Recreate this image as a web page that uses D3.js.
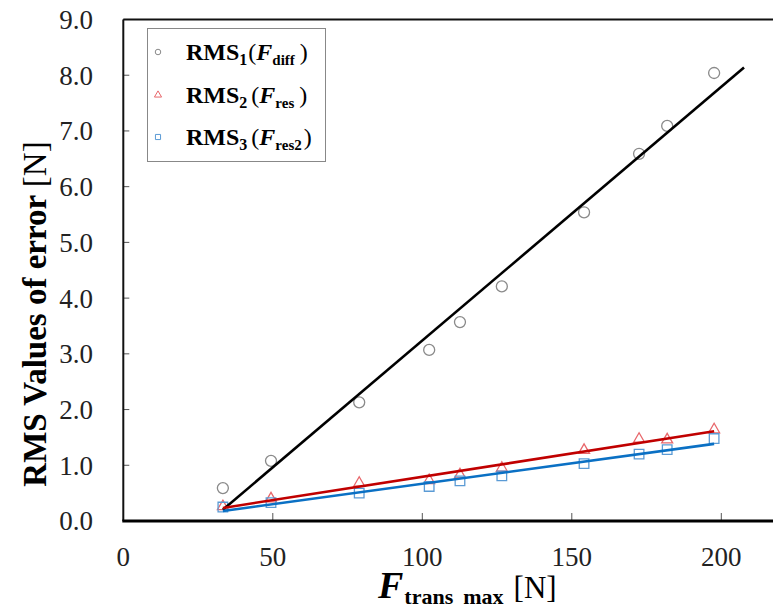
<!DOCTYPE html>
<html>
<head>
<meta charset="utf-8">
<script src="https://cdn.jsdelivr.net/npm/d3@7"></script>
<style>
  body { margin: 0; background: #fff; }
  svg { display: block; font-family: "Liberation Serif", "Times New Roman", serif; }
</style>
</head>
<body>
<script>
var fTrans = [33.3, 49.4, 78.9, 102.3, 112.6, 126.6, 154.1, 172.5, 181.9, 197.6];
var rms1 = [0.59, 1.08, 2.13, 3.07, 3.57, 4.21, 5.54, 6.59, 7.09, 8.04];
var rms2 = [0.26, 0.40, 0.68, 0.73, 0.83, 0.95, 1.27, 1.47, 1.46, 1.64];
var rms3 = [0.25, 0.33, 0.50, 0.62, 0.72, 0.81, 1.03, 1.20, 1.28, 1.48];
var seriesNames = ["RMS1", "RMS2", "RMS3"];
var subNames = ["diff", "res", "res2"];
var trendForward = [10, 0, 0];
var xTicks = [0, 50, 100, 150, 200];
var yTicks = [0, 1, 2, 3, 4, 5, 6, 7, 8, 9];

var width = 773;
var height = 608;

var margin = { left: 123.3, top: 19.5, bottom: 521 };

var x = d3.scaleLinear().domain([0, 220]).range([margin.left, margin.left + 220 * 2.99]);
var y = d3.scaleLinear().domain([0, 9]).range([margin.bottom, margin.top]);

var styles = [
  { line: "#000000", mark: "#8a8a8a", symbol: d3.symbolCircle, size: 95, legendSize: 24 },
  { line: "#c00000", mark: "#e8676b", symbol: d3.symbolTriangle, size: 52, legendSize: 22 },
  { line: "#0a70c4", mark: "#5b9bd5", symbol: d3.symbolSquare, size: 92, legendSize: 26 }
];

var series = [rms1, rms2, rms3].map(function(vals, i) {
  return {
    name: seriesNames[i],
    points: vals.map(function(v, j) { return { x: fTrans[j], y: v }; }),
    style: styles[i],
    forward: trendForward[i]
  };
});

function fit(points) {
  var mx = d3.mean(points, function(p) { return p.x; });
  var my = d3.mean(points, function(p) { return p.y; });
  var sxy = d3.sum(points, function(p) { return (p.x - mx) * (p.y - my); });
  var sxx = d3.sum(points, function(p) { return (p.x - mx) * (p.x - mx); });
  var slope = sxy / sxx;
  return { slope: slope, intercept: my - slope * mx };
}

var svg = d3.select("body").append("svg")
  .attr("width", width)
  .attr("height", height);

// ticks (inside)
svg.append("g").selectAll("line")
  .data(yTicks.slice(1))
  .enter().append("line")
  .attr("x1", x(0)).attr("x2", x(0) + 6)
  .attr("y1", function(d) { return y(d); })
  .attr("y2", function(d) { return y(d); })
  .attr("stroke", "#555").attr("stroke-width", 1);

svg.append("g").selectAll("line")
  .data(xTicks.slice(1))
  .enter().append("line")
  .attr("x1", function(d) { return x(d); })
  .attr("x2", function(d) { return x(d); })
  .attr("y1", y(0)).attr("y2", y(0) - 8)
  .attr("stroke", "#555").attr("stroke-width", 1);

// frame
svg.append("line")
  .attr("x1", x(0)).attr("x2", width)
  .attr("y1", y(9)).attr("y2", y(9))
  .attr("stroke", "#111").attr("stroke-width", 2);
svg.append("line")
  .attr("x1", x(0)).attr("x2", x(0))
  .attr("y1", y(9)).attr("y2", y(0))
  .attr("stroke", "#111").attr("stroke-width", 2);
svg.append("line")
  .attr("x1", x(0) - 1).attr("x2", width)
  .attr("y1", y(0)).attr("y2", y(0))
  .attr("stroke", "#000").attr("stroke-width", 3);

// tick labels
svg.append("g").selectAll("text")
  .data(yTicks)
  .enter().append("text")
  .attr("x", 93)
  .attr("y", function(d) { return y(d); })
  .attr("dy", "0.35em")
  .attr("text-anchor", "end")
  .attr("font-size", 27)
  .attr("fill", "#222")
  .text(function(d) { return d3.format(".1f")(d); });

svg.append("g").selectAll("text")
  .data(xTicks)
  .enter().append("text")
  .attr("x", function(d) { return x(d); })
  .attr("y", 566)
  .attr("text-anchor", "middle")
  .attr("font-size", 27)
  .attr("fill", "#222")
  .text(function(d) { return d; });

// markers
series.forEach(function(s) {
  svg.append("g").selectAll("path")
    .data(s.points)
    .enter().append("path")
    .attr("transform", function(d) { return "translate(" + x(d.x) + "," + y(d.y) + ")"; })
    .attr("d", d3.symbol().type(s.style.symbol).size(s.style.size))
    .attr("fill", "none")
    .attr("stroke", s.style.mark)
    .attr("stroke-width", 1.3);
});

// trend lines
series.forEach(function(s) {
  var f = fit(s.points);
  var x0 = d3.min(s.points, function(p) { return p.x; });
  var x1 = d3.max(s.points, function(p) { return p.x; }) + s.forward;
  svg.append("path")
    .datum([x0, x1])
    .attr("d", d3.line()
      .x(function(d) { return x(d); })
      .y(function(d) { return y(f.intercept + f.slope * d); }))
    .attr("fill", "none")
    .attr("stroke", s.style.line)
    .attr("stroke-width", 2.6);
});

// legend
var legend = svg.append("g");
legend.append("rect")
  .attr("x", 147.5).attr("y", 28.5)
  .attr("width", 178).attr("height", 133)
  .attr("fill", "#fff")
  .attr("stroke", "#888").attr("stroke-width", 1);

var legendRows = [52, 95, 137];
series.forEach(function(s, i) {
  legend.append("path")
    .attr("transform", "translate(158," + legendRows[i] + ")")
    .attr("d", d3.symbol().type(s.style.symbol).size(s.style.legendSize))
    .attr("fill", "none")
    .attr("stroke", s.style.mark)
    .attr("stroke-width", 1);

  var t = legend.append("text")
    .attr("x", 186)
    .attr("y", legendRows[i] + 8)
    .attr("font-size", 24)
    .attr("fill", "#000");
  t.append("tspan").attr("font-weight", "bold").text("RMS");
  t.append("tspan").attr("font-weight", "bold").attr("font-size", 16).attr("dy", 5)
    .text(s.name.slice(3));
  t.append("tspan").attr("dy", -5).attr("dx", i === 0 ? 1 : 4).text("(");
  t.append("tspan").attr("font-weight", "bold").attr("font-style", "italic").text("F");
  t.append("tspan").attr("font-weight", "bold").attr("font-size", 15).attr("dy", 5)
    .text(subNames[i]);
  t.append("tspan").attr("dy", -5).attr("dx", i === 2 ? 2 : 5).text(")");
});

// axis titles
var xt = svg.append("text")
  .attr("x", 378)
  .attr("y", 598)
  .attr("fill", "#000");
xt.append("tspan").attr("font-size", 38).attr("font-weight", "bold").attr("font-style", "italic").text("F");
xt.append("tspan").attr("font-size", 22).attr("font-weight", "bold").attr("dy", 6).attr("dx", 1).text("trans");
xt.append("tspan").attr("font-size", 22).attr("font-weight", "bold").attr("dx", 10).text("max");
xt.append("tspan").attr("font-size", 31).attr("dy", -6).attr("dx", 10).text("[N]");

var yt = svg.append("text")
  .attr("transform", "translate(46,314) rotate(-90)")
  .attr("text-anchor", "middle")
  .attr("font-size", 33)
  .attr("fill", "#000");
yt.append("tspan").attr("font-weight", "bold").text("RMS Values of error ");
yt.append("tspan").text("[N]");
</script>
</body>
</html>
